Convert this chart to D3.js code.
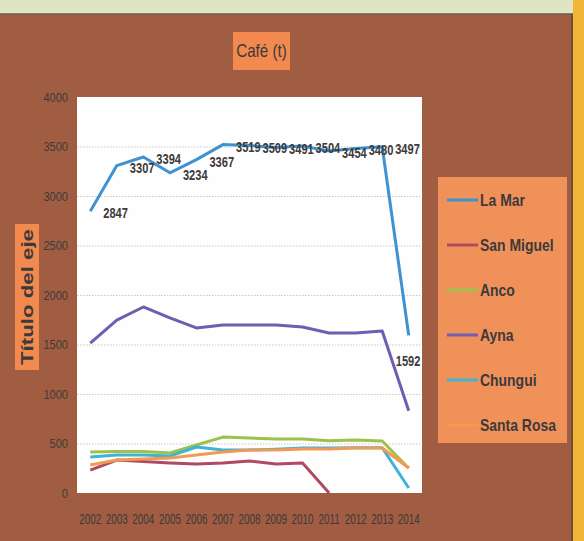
<!DOCTYPE html>
<html>
<head>
<meta charset="utf-8">
<script src="https://cdn.jsdelivr.net/npm/d3@7"></script>
<style>
  body { margin: 0; background: #dfe5c3; }
  svg { display: block; }
</style>
</head>
<body>
<svg id="chart" width="584" height="541"></svg>
<script>
// Chart data
const years = ["2002","2003","2004","2005","2006","2007","2008","2009","2010","2011","2012","2013","2014"];
const seriesNames = ["La Mar", "San Miguel", "Anco", "Ayna", "Chungui", "Santa Rosa"];
const laMar = [2847, 3307, 3394, 3234, 3367, 3519, 3509, 3491, 3504, 3454, 3480, 3497, 1592];
const sanMiguel = [232, 333, 318, 303, 293, 303, 323, 293, 303, 0, null, null, null];
const anco = [414, 420, 420, 404, 485, 565, 555, 545, 545, 528, 535, 525, 250];
const ayna = [1515, 1747, 1879, 1768, 1667, 1697, 1697, 1697, 1677, 1616, 1616, 1636, 830];
const chungui = [364, 384, 384, 374, 465, 434, 434, 443, 455, 455, 458, 458, 50];
const santaRosa = [283, 333, 343, 353, 384, 414, 434, 434, 444, 444, 455, 455, 253];
const yTicks = [0, 500, 1000, 1500, 2000, 2500, 3000, 3500, 4000];
const colors = ["#3f92d2", "#b04a62", "#9cc24c", "#6e5db0", "#3fb3d4", "#f39a52"];

const allSeries = [laMar, sanMiguel, anco, ayna, chungui, santaRosa];

const svg = d3.select("#chart");
const textColor = "#3c3a3a";
const font = "'Liberation Sans', Arial, sans-serif";

// Squeeze text horizontally to mimic the condensed Calibri look
function condense(sel, k) {
  sel.each(function() {
    const w = this.getComputedTextLength();
    d3.select(this).attr("textLength", w * k).attr("lengthAdjust", "spacingAndGlyphs");
  });
}

// Backgrounds: pale strip on top, brown chart area, yellow strip on the right
svg.append("rect").attr("x", 0).attr("y", 0).attr("width", 584).attr("height", 541).attr("fill", "#dfe5c3");
svg.append("rect").attr("x", 0).attr("y", 14).attr("width", 573).attr("height", 527).attr("fill", "#a05d42");
svg.append("line").attr("x1", 0).attr("x2", 573).attr("y1", 14).attr("y2", 14).attr("stroke", "#6b5a4a").attr("stroke-width", 1.5);
svg.append("rect").attr("x", 573).attr("y", 0).attr("width", 11).attr("height", 541).attr("fill", "#f2b535");
svg.append("line").attr("x1", 572).attr("x2", 572).attr("y1", 14).attr("y2", 541).attr("stroke", "#5a4a3a").attr("stroke-width", 1.5);

// Plot area
const plot = {left: 77, right: 422, top: 97, bottom: 493};
svg.append("rect")
  .attr("x", plot.left).attr("y", plot.top)
  .attr("width", plot.right - plot.left).attr("height", plot.bottom - plot.top)
  .attr("fill", "#fefefe");

// Scales
const x = d3.scaleBand().domain(years).range([plot.left, plot.right]).padding(0);
const y = d3.scaleLinear().domain([0, 4000]).range([plot.bottom, plot.top]);
const cx = d => x(d) + x.bandwidth() / 2;

// Gridlines
const grid = svg.append("g")
  .attr("transform", `translate(${plot.left},0)`)
  .call(d3.axisLeft(y).tickValues(yTicks.slice(1, -1)).tickSize(-(plot.right - plot.left)).tickFormat(""));
grid.select(".domain").remove();
grid.selectAll("line").attr("stroke", "#c9c9c9").attr("stroke-dasharray", "1.5,1.5");

// Y axis labels
const yAxis = svg.append("g")
  .attr("transform", `translate(${plot.left - 6},0)`)
  .call(d3.axisLeft(y).tickValues(yTicks).tickFormat(d3.format("d")).tickSize(0).tickPadding(3));
yAxis.select(".domain").remove();
yAxis.selectAll("text")
  .attr("fill", textColor)
  .style("font-family", font)
  .style("font-size", "13px")
  .call(condense, 0.85);

// X axis labels (scaled narrow so neighbours just touch, as in the original)
const xAxis = svg.append("g")
  .attr("transform", `translate(0,${plot.bottom + 20})`)
  .call(d3.axisBottom(x).tickSize(0).tickPadding(0));
xAxis.select(".domain").remove();
xAxis.selectAll("text")
  .attr("fill", textColor)
  .attr("transform", "scale(0.66,1)")
  .style("font-family", font)
  .style("font-size", "15px");

// Lines
const line = d3.line()
  .defined(d => d.v !== null)
  .x(d => cx(d.year))
  .y(d => y(d.v));

allSeries.forEach((values, i) => {
  const pts = values.map((v, j) => ({year: years[j], v: v}));
  svg.append("path")
    .datum(pts)
    .attr("fill", "none")
    .attr("stroke", colors[i])
    .attr("stroke-width", 3)
    .attr("stroke-linejoin", "round")
    .attr("d", line);
});

// Data labels for La Mar (right of each point, last one below)
const last = years.length - 1;
svg.selectAll(".lbl")
  .data(laMar)
  .join("text")
  .attr("class", "lbl")
  .attr("transform", (d, j) => {
    const lx = j === last ? cx(years[j]) - 13 : cx(years[j]) + 13;
    const ly = j === last ? y(d) + 31 : y(d) + 7;
    return `translate(${lx},${ly}) scale(0.74,1)`;
  })
  .attr("fill", textColor)
  .style("font-family", font)
  .style("font-size", "15px")
  .style("font-weight", "bold")
  .text(d => d);

// Title
svg.append("rect").attr("x", 233).attr("y", 32).attr("width", 57).attr("height", 38).attr("fill", "#f28a4f");
svg.append("text")
  .attr("x", 261.5).attr("y", 57)
  .attr("text-anchor", "middle")
  .attr("fill", textColor)
  .style("font-family", font)
  .style("font-size", "19px")
  .text("Café (t)")
  .call(condense, 0.8);

// Y axis title
svg.append("rect").attr("x", 15).attr("y", 224).attr("width", 24).attr("height", 146).attr("fill", "#f28a4f");
svg.append("text")
  .attr("transform", "translate(33,297) rotate(-90)")
  .attr("text-anchor", "middle")
  .attr("fill", textColor)
  .attr("textLength", 136)
  .attr("lengthAdjust", "spacingAndGlyphs")
  .style("font-family", font)
  .style("font-size", "16px")
  .style("font-weight", "bold")
  .text("Título del eje");

// Legend
svg.append("rect").attr("x", 438).attr("y", 177).attr("width", 129).attr("height", 266).attr("fill", "#f1915a");
const legend = svg.selectAll(".legend")
  .data(seriesNames)
  .join("g")
  .attr("class", "legend")
  .attr("transform", (d, i) => `translate(447,${200 + i * 45})`);
legend.append("line")
  .attr("x1", 0).attr("x2", 31)
  .attr("stroke", (d, i) => colors[i])
  .attr("stroke-width", 3);
legend.append("text")
  .attr("x", 33).attr("y", 6)
  .attr("fill", textColor)
  .style("font-family", font)
  .style("font-size", "17px")
  .style("font-weight", "bold")
  .text(d => d)
  .call(condense, 0.82);
</script>
</body>
</html>
